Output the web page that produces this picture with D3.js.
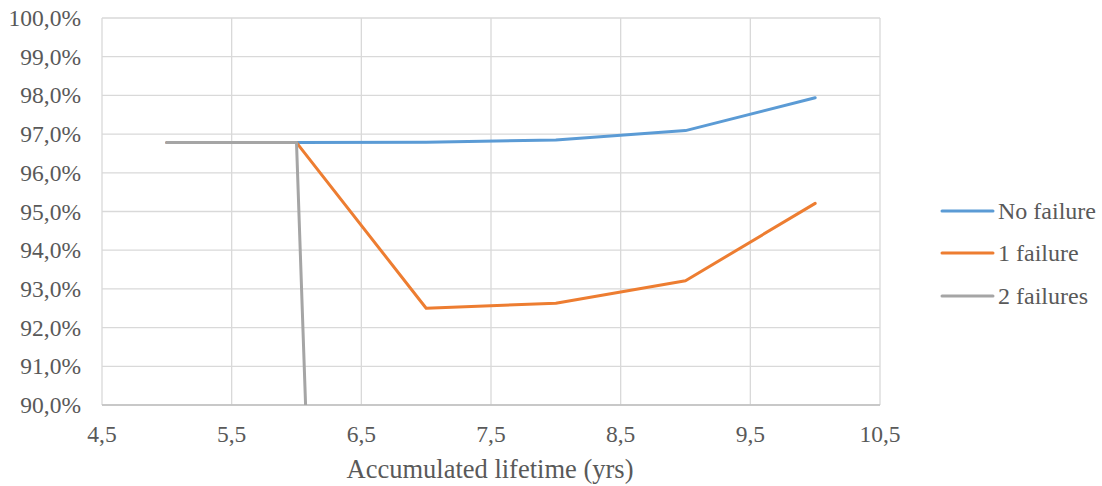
<!DOCTYPE html>
<html>
<head>
<meta charset="utf-8">
<script src="https://cdn.jsdelivr.net/npm/d3@7"></script>
<style>
  body { margin: 0; background: #fff; }
</style>
</head>
<body>
<div id="chart"></div>
<script>
// accumulated lifetime (yrs)
var years = [5, 6, 7, 8, 9, 10];

// availability (%) per scenario
var noFailure  = [96.78, 96.78, 96.79, 96.85, 97.09, 97.94];
var oneFailure = [96.78, 96.78, 92.50, 92.63, 93.21, 95.21];
var twoFailure = [96.78, 96.78, 0];

var seriesNames  = ["No failure", "1 failure", "2 failures"];
var seriesColors = ["#5B9BD5", "#ED7D31", "#A5A5A5"];

var xTicks = [4.5, 5.5, 6.5, 7.5, 8.5, 9.5, 10.5];
var yTicks = [90, 91, 92, 93, 94, 95, 96, 97, 98, 99, 100];

var W = 1102, H = 486;
var plot = {left: 102, right: 880, top: 18, bottom: 405};
var FONT = "'Liberation Serif', 'Times New Roman', 'DejaVu Serif', serif";

var svg = d3.select("#chart").append("svg")
    .attr("width", W)
    .attr("height", H)
    .attr("font-family", FONT);

var x = d3.scaleLinear().domain([4.5, 10.5]).range([plot.left, plot.right]);
var y = d3.scaleLinear().domain([90, 100]).range([plot.bottom, plot.top]);

// grid
svg.append("g").selectAll("line").data(yTicks).enter().append("line")
    .attr("x1", plot.left).attr("x2", plot.right)
    .attr("y1", function(d) { return y(d); }).attr("y2", function(d) { return y(d); })
    .attr("stroke", "#D9D9D9").attr("stroke-width", 1.3);

svg.append("g").selectAll("line").data(xTicks).enter().append("line")
    .attr("y1", plot.top).attr("y2", plot.bottom)
    .attr("x1", function(d) { return x(d); }).attr("x2", function(d) { return x(d); })
    .attr("stroke", "#D9D9D9").attr("stroke-width", 1.3);

// bottom axis line a touch darker
svg.append("line")
    .attr("x1", plot.left).attr("x2", plot.right)
    .attr("y1", plot.bottom).attr("y2", plot.bottom)
    .attr("stroke", "#BFBFBF").attr("stroke-width", 1.3);

// tick labels
var fmtY = function(d) { return d3.format(".1f")(d).replace(".", ",") + "%"; };
var fmtX = function(d) { return d3.format(".1f")(d).replace(".", ","); };

function label(sel, size) {
    return sel.attr("font-family", FONT)
        .attr("font-size", size)
        .attr("fill", "#595959");
}

svg.append("g").selectAll("text").data(yTicks).enter().append("text")
    .attr("x", 81)
    .attr("y", function(d) { return y(d) + 8; })
    .attr("text-anchor", "end")
    .call(label, 23.5)
    .text(fmtY);

svg.append("g").selectAll("text").data(xTicks).enter().append("text")
    .attr("x", function(d) { return x(d); })
    .attr("y", 442)
    .attr("text-anchor", "middle")
    .call(label, 23.5)
    .text(fmtX);

svg.append("text")
    .attr("x", 490)
    .attr("y", 478)
    .attr("text-anchor", "middle")
    .call(label, 26.5)
    .text("Accumulated lifetime (yrs)");

// lines, clipped to the plot area
svg.append("clipPath").attr("id", "clip").append("rect")
    .attr("x", plot.left).attr("y", plot.top)
    .attr("width", plot.right - plot.left).attr("height", plot.bottom - plot.top);

var line = d3.line()
    .x(function(d) { return x(d[0]); })
    .y(function(d) { return y(d[1]); });

var allSeries = [noFailure, oneFailure, twoFailure];
var g = svg.append("g").attr("clip-path", "url(#clip)");
allSeries.forEach(function(vals, i) {
    var pts = vals.map(function(v, j) { return [years[j], v]; });
    g.append("path")
        .attr("d", line(pts))
        .attr("fill", "none")
        .attr("stroke", seriesColors[i])
        .attr("stroke-width", 3)
        .attr("stroke-linejoin", "round")
        .attr("stroke-linecap", "round");
});

// legend
var legY = [211, 253, 296];
var leg = svg.append("g");
seriesNames.forEach(function(name, i) {
    leg.append("line")
        .attr("x1", 942).attr("x2", 993)
        .attr("y1", legY[i]).attr("y2", legY[i])
        .attr("stroke", seriesColors[i])
        .attr("stroke-width", 3)
        .attr("stroke-linecap", "round");
    leg.append("text")
        .attr("x", 998)
        .attr("y", legY[i] + 8)
        .call(label, 24)
        .text(name);
});
</script>
</body>
</html>
